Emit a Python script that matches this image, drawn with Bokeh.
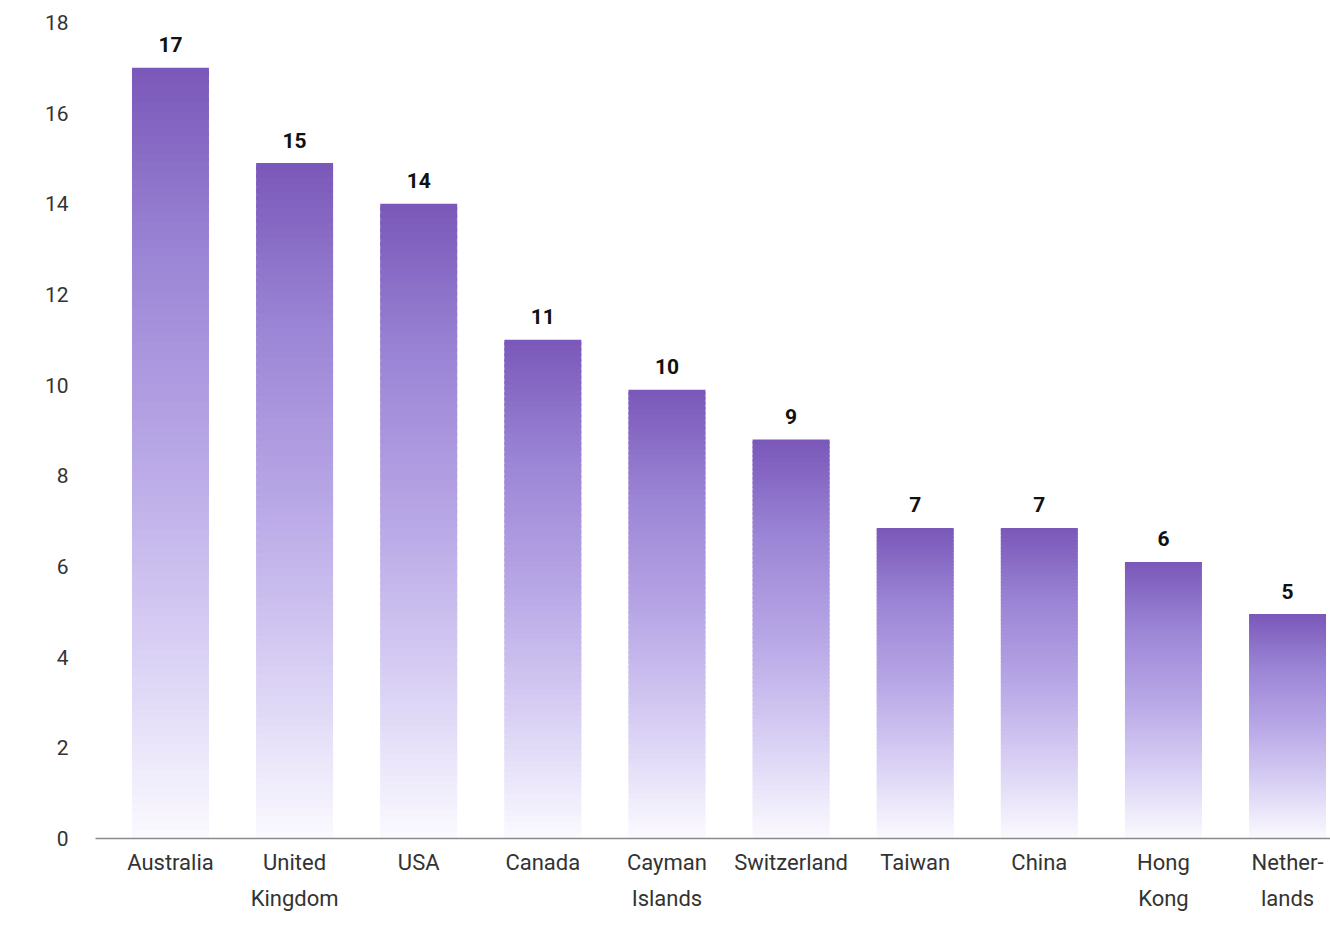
from bokeh.plotting import figure
from bokeh.models import FixedTicker, Range1d, ColumnDataSource
from bokeh.embed import file_html
from bokeh.resources import INLINE
from bokeh.core.properties import value

# ---- data ----
countries = ["Australia", "United\nKingdom", "USA", "Canada", "Cayman\nIslands",
             "Switzerland", "Taiwan", "China", "Hong\nKong", "Nether-\nlands"]
heights = [17.0, 14.9, 14.0, 11.0, 9.9, 8.8, 6.85, 6.85, 6.1, 4.95]
value_labels = ["17", "15", "14", "11", "10", "9", "7", "7", "6", "5"]
y_ticks = [0, 2, 4, 6, 8, 10, 12, 14, 16, 18]

# ---- style ----
FONT = "Roboto"
BAR_W = 0.62
N_SLICES = 90
# gradient stops (fraction from top of bar -> colour)
stops = [(0.0, (0x7a, 0x58, 0xb9)), (0.25, (0x9c, 0x86, 0xd6)),
         (0.5, (0xb8, 0xa7, 0xe6)), (0.75, (0xd8, 0xcf, 0xf4)),
         (1.0, (0xfb, 0xfa, 0xff))]


def grad_color(f):
    for (f0, c0), (f1, c1) in zip(stops[:-1], stops[1:]):
        if f0 <= f <= f1:
            t = (f - f0) / (f1 - f0)
            r, g, b = (round(a + (b_ - a) * t) for a, b_ in zip(c0, c1))
            return "#%02x%02x%02x" % (r, g, b)
    return "#%02x%02x%02x" % stops[-1][1]


xs = list(range(len(countries)))

p = figure(width=1330, height=941, output_backend="svg", toolbar_location=None,
           x_range=Range1d(-0.604, 9.346), y_range=Range1d(0, 18),
           min_border_left=95, min_border_right=0, min_border_top=22,
           min_border_bottom=103)
p.outline_line_color = None
p.background_fill_color = "white"
p.border_fill_color = "white"
p.xgrid.visible = False
p.ygrid.visible = False

# gradient bars built from slices
left, right, bottom, top, colors = [], [], [], [], []
for x, h in zip(xs, heights):
    step = h / N_SLICES
    for k in range(N_SLICES):
        b = k * step
        t = min(h, (k + 1) * step + step * 0.6)
        frac_from_top = 1 - (k + 0.5) / N_SLICES
        left.append(x - BAR_W / 2)
        right.append(x + BAR_W / 2)
        bottom.append(b)
        top.append(t)
        colors.append(grad_color(frac_from_top))
src = ColumnDataSource(dict(left=left, right=right, bottom=bottom, top=top, color=colors))
p.quad(left="left", right="right", bottom="bottom", top="top", fill_color="color",
       line_color=None, source=src)

# value labels
lab_src = ColumnDataSource(dict(x=xs, y=heights, text=value_labels))
p.text(x="x", y="y", text="text", source=lab_src, text_align="center",
       text_baseline="middle", y_offset=-23, text_font=value(FONT),
       text_font_style="bold", text_font_size="21px", text_color="#111111")

# y axis
p.yaxis.ticker = FixedTicker(ticks=y_ticks)
p.yaxis.axis_line_color = None
p.yaxis.major_tick_line_color = None
p.yaxis.minor_tick_line_color = None
p.yaxis.major_label_standoff = 21
p.yaxis.major_label_text_font = FONT
p.yaxis.major_label_text_font_size = "21px"
p.yaxis.major_label_text_color = "#333333"

# x axis
p.xaxis.ticker = FixedTicker(ticks=xs)
p.xaxis.major_label_overrides = {i: c for i, c in zip(xs, countries)}
p.xaxis.axis_line_color = "#8a8a8a"
p.xaxis.axis_line_width = 1.5
p.xaxis.major_tick_line_color = None
p.xaxis.minor_tick_line_color = None
p.xaxis.major_label_standoff = 5
p.xaxis.major_label_text_font = FONT
p.xaxis.major_label_text_font_size = "22px"
p.xaxis.major_label_text_color = "#333333"
p.xaxis.major_label_text_line_height = 1.45

open("out.html", "w").write(file_html(p, INLINE))
